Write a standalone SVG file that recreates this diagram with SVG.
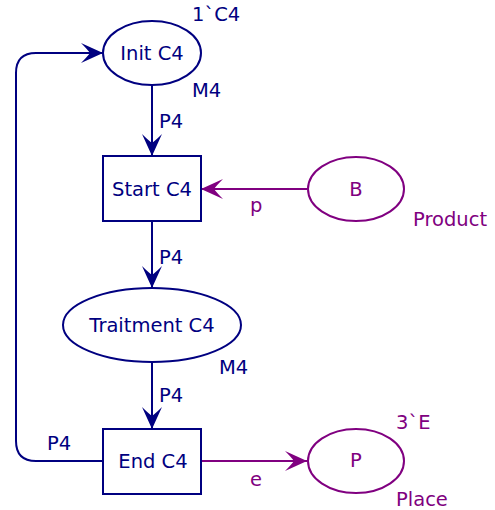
<svg xmlns="http://www.w3.org/2000/svg" width="495" height="510" viewBox="0 0 495 510">
<defs>
<style>
text{font-family:"DejaVu Sans","Liberation Sans",sans-serif;font-size:19.5px}
.b{fill:#000080}.p{fill:#800080}
.nb{fill:#fff;stroke:#000080;stroke-width:2}
.np{fill:#fff;stroke:#800080;stroke-width:2}
.eb{fill:none;stroke:#000080;stroke-width:2}
.ep{fill:none;stroke:#800080;stroke-width:2}
.c{text-anchor:middle}
</style>
<marker id="ab" markerUnits="userSpaceOnUse" markerWidth="24" markerHeight="22" refX="23" refY="11" orient="auto" viewBox="0 0 24 22">
<path d="M23,11 L1,1 Q7,7 10,11 Q7,15 1,21 Z" fill="#000080"/>
</marker>
<marker id="ap" markerUnits="userSpaceOnUse" markerWidth="24" markerHeight="22" refX="23" refY="11" orient="auto" viewBox="0 0 24 22">
<path d="M23,11 L1,1 Q7,7 10,11 Q7,15 1,21 Z" fill="#800080"/>
</marker>
</defs>
<g id="connectors">
<path class="eb" d="M152,85 V156" marker-end="url(#ab)"/>
<path class="eb" d="M152,221 V288" marker-end="url(#ab)"/>
<path class="eb" d="M152,362 V429" marker-end="url(#ab)"/>
<path class="ep" d="M307,189 H201" marker-end="url(#ap)"/>
<path class="ep" d="M201,461 H307" marker-end="url(#ap)"/>
<path class="eb" d="M103,461 H36 Q16,461 16,441 V73 Q16,53 36,53 H103" marker-end="url(#ab)"/>
<text class="b" x="159" y="128">P4</text>
<text class="b" x="159" y="264">P4</text>
<text class="b" x="159" y="402">P4</text>
<text class="b" x="47" y="450">P4</text>
<text class="p" x="250" y="212">p</text>
<text class="p" x="250" y="486">e</text>
</g>
<g id="init">
<ellipse class="nb" cx="152" cy="53" rx="49" ry="32"/>
<text class="b c" x="152" y="60">Init C4</text>
<text class="b" x="192" y="21">1`C4</text>
<text class="b" x="192" y="97">M4</text>
</g>
<g id="start">
<rect class="nb" x="103" y="156" width="98" height="65"/>
<text class="b c" x="152" y="196">Start C4</text>
</g>
<g id="traitment">
<ellipse class="nb" cx="152" cy="325" rx="89" ry="37"/>
<text class="b c" x="152" y="332">Traitment C4</text>
<text class="b" x="219" y="374">M4</text>
</g>
<g id="end">
<rect class="nb" x="103" y="429" width="98" height="65"/>
<text class="b c" x="153" y="468">End C4</text>
</g>
<g id="product">
<ellipse class="np" cx="356" cy="189" rx="48" ry="32"/>
<text class="p c" x="356" y="196">B</text>
<text class="p" x="413" y="226">Product</text>
</g>
<g id="place">
<ellipse class="np" cx="356" cy="461" rx="48" ry="32"/>
<text class="p c" x="356" y="467">P</text>
<text class="p" x="396" y="429">3`E</text>
<text class="p" x="396" y="506">Place</text>
</g>
</svg>
